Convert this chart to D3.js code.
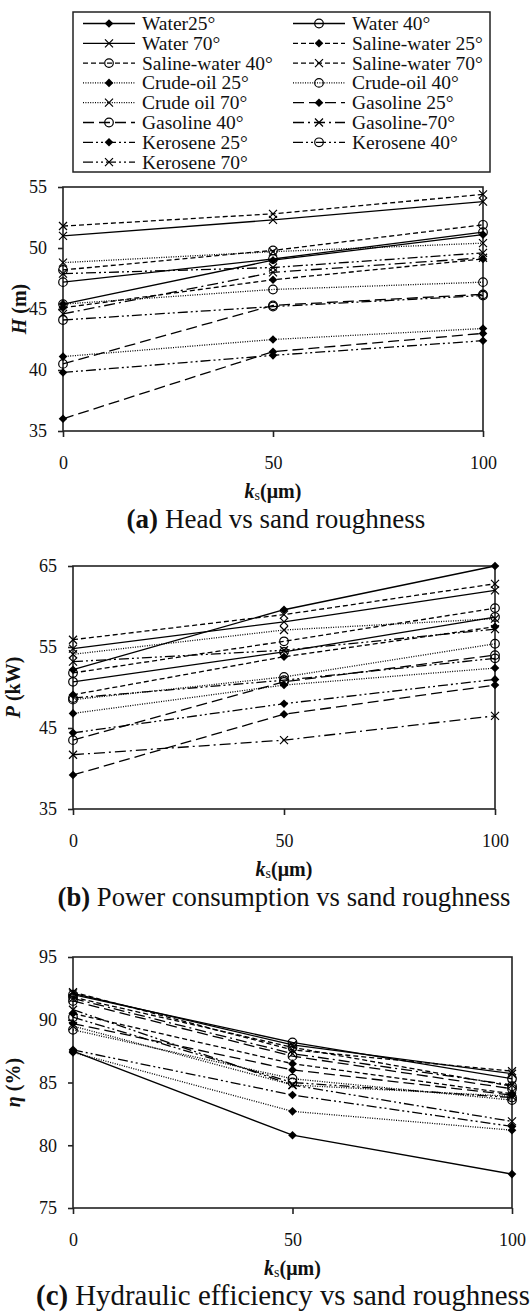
<!DOCTYPE html>
<html><head><meta charset="utf-8">
<script src="https://cdn.jsdelivr.net/npm/d3@7"></script>
<style>body{margin:0;background:#fff} svg{display:block}</style>
</head><body>
<svg id="c" width="531" height="1313"></svg>
<script>
// ---------- DATA ----------
const ksValues = [0, 50, 100];
const seriesNames = ["Water25°","Water 40°","Water 70°","Saline-water 25°","Saline-water 40°","Saline-water 70°",
  "Crude-oil 25°","Crude-oil 40°","Crude oil 70°","Gasoline 25°","Gasoline 40°","Gasoline-70°",
  "Kerosene 25°","Kerosene 40°","Kerosene 70°"];
// head H (m) at ks = 0, 50, 100
const headValues = [
  [45.4, 49.0, 51.1], [47.2, 49.1, 51.3], [51.0, 52.3, 53.8],
  [45.1, 47.4, 49.1], [48.2, 49.8, 51.9], [51.8, 52.8, 54.4],
  [41.1, 42.5, 43.4], [45.4, 46.6, 47.2], [48.8, 49.7, 50.4],
  [36.0, 41.5, 43.0], [40.5, 45.3, 46.2], [44.6, 48.0, 49.2],
  [39.8, 41.2, 42.4], [44.1, 45.2, 46.1], [47.9, 48.4, 49.6]
];
// power P (kW)
const powerValues = [
  [52.2, 59.6, 65.0], [50.7, 54.4, 58.7], [54.8, 58.1, 62.0],
  [49.1, 53.8, 57.5], [51.8, 55.7, 59.8], [55.9, 59.0, 62.8],
  [46.8, 50.3, 52.4], [48.5, 51.3, 55.4], [54.1, 57.1, 58.5],
  [39.2, 46.7, 50.3], [43.5, 50.7, 54.0], [41.7, 43.5, 46.5],
  [44.4, 48.0, 51.0], [48.7, 50.9, 53.6], [53.2, 54.6, 57.2]
];
// hydraulic efficiency (%)
const effValues = [
  [87.5, 80.8, 77.7], [92.0, 88.2, 85.3], [92.1, 88.0, 85.7],
  [90.5, 86.5, 84.1], [91.8, 87.8, 84.7], [92.2, 87.6, 85.9],
  [87.4, 82.7, 81.2], [89.2, 85.3, 83.6], [89.5, 84.8, 83.9],
  [89.7, 86.0, 84.0], [91.5, 87.1, 84.5], [91.7, 87.3, 84.8],
  [87.6, 84.0, 81.5], [90.2, 85.0, 83.8], [90.8, 84.8, 81.9]
];
const headTicks = [35, 40, 45, 50, 55];
const powerTicks = [35, 45, 55, 65];
const effTicks = [75, 80, 85, 90, 95];

// ---------- STYLES ----------
const FONT = '"Liberation Serif", "Times New Roman", serif';
const markerTypes = ["diamond", "circle", "cross"];
const dashStyles = [
  [null, null, null],
  ["5,3", "5,3", "5,3"],
  ["1,1.4", "1,1.4", "1,1.4"],
  ["11,5", "11,5", "11,4,2,4"],
  ["10,3,2,3,2,3", "10,3,2,3,2,3", "10,3,2,3,2,3"]
];
const svg = d3.select("#c");

function drawMarker(g, type, x, y) {
  if (type === "diamond") {
    const h = 4.3;
    g.append("path").attr("d", `M${x},${y-h}L${x+h},${y}L${x},${y+h}L${x-h},${y}Z`).attr("fill", "#000");
  } else if (type === "circle") {
    g.append("circle").attr("cx", x).attr("cy", y).attr("r", 4.3)
      .attr("fill", "none").attr("stroke", "#000").attr("stroke-width", 1.2);
  } else {
    const h = 4;
    g.append("path").attr("d", `M${x-h},${y-h}L${x+h},${y+h}M${x-h},${y+h}L${x+h},${y-h}`)
      .attr("stroke", "#000").attr("stroke-width", 1.2).attr("fill", "none");
  }
}

// ---------- LEGEND ----------
const leg = svg.append("g");
leg.append("rect").attr("x", 73).attr("y", 12).attr("width", 417).attr("height", 160)
  .attr("fill", "none").attr("stroke", "#222").attr("stroke-width", 1.5);
seriesNames.forEach((name, i) => {
  const row = Math.floor(i / 2), col = i % 2;
  const y = 23.5 + row * 19.8;
  const x0 = col === 0 ? 83 : 293;
  const dash = dashStyles[Math.floor(i / 3)][i % 3];
  leg.append("line").attr("x1", x0).attr("x2", x0 + 52).attr("y1", y).attr("y2", y)
    .attr("stroke", "#000").attr("stroke-width", 1.3).attr("stroke-dasharray", dash);
  drawMarker(leg, markerTypes[i % 3], x0 + 26, y);
  leg.append("text").attr("x", x0 + 59).attr("y", y + 6.5).text(name)
    .style("font-family", FONT).style("font-size", "19.5px").attr("fill", "#111");
});

// ---------- CHARTS ----------
function fitText(t, width, cx) {
  const fs = parseFloat(t.style("font-size"));
  const w = t.node().getComputedTextLength();
  t.style("font-size", (fs * width / w) + "px");
  t.attr("x", cx).attr("text-anchor", "middle");
}

function chart(cfg) {
  const g = svg.append("g");
  const x = d3.scaleLinear().domain([0, 100]).range([cfg.left, cfg.right]);
  const y = d3.scaleLinear().domain(cfg.domain).range([cfg.bottom, cfg.top]);

  g.append("rect").attr("x", cfg.left).attr("y", cfg.top)
    .attr("width", cfg.right - cfg.left).attr("height", cfg.bottom - cfg.top)
    .attr("fill", "none").attr("stroke", "#222").attr("stroke-width", 1.6);

  const ya = g.append("g").attr("transform", `translate(${cfg.left},0)`)
    .call(d3.axisLeft(y).tickValues(cfg.ticks).tickSize(5).tickPadding(11).tickFormat(d3.format("d")));
  const xa = g.append("g").attr("transform", `translate(0,${cfg.bottom})`)
    .call(d3.axisBottom(x).tickValues(ksValues).tickSize(6).tickPadding(19).tickFormat(d3.format("d")));
  [ya, xa].forEach(a => {
    a.attr("font-family", null).attr("font-size", null);
    a.select(".domain").remove();
    a.selectAll(".tick line").attr("stroke", "#222").attr("stroke-width", 1.6);
    a.selectAll("text").style("font-family", FONT).style("font-size", "18px").attr("fill", "#111");
  });

  const line = d3.line().x((d, k) => x(ksValues[k])).y(d => y(d));
  cfg.data.forEach((vals, i) => {
    const dash = dashStyles[Math.floor(i / 3)][i % 3];
    g.append("path").attr("d", line(vals)).attr("fill", "none").attr("stroke", "#000")
      .attr("stroke-width", 1.3).attr("stroke-dasharray", dash);
  });
  cfg.data.forEach((vals, i) => {
    vals.forEach((v, k) => drawMarker(g, markerTypes[i % 3], x(ksValues[k]), y(v)));
  });

  const yt = g.append("text").attr("transform", `translate(${cfg.ylabelX},${(cfg.top + cfg.bottom) / 2}) rotate(-90)`)
    .attr("text-anchor", "middle").style("font-family", FONT).style("font-size", "20px")
    .style("font-weight", "bold").attr("fill", "#111");
  yt.append("tspan").style("font-style", "italic").text(cfg.ylabel[0]);
  yt.append("tspan").text(cfg.ylabel[1]);

  const cx = (cfg.left + cfg.right) / 2;
  const xt = g.append("text").attr("x", cx).attr("y", cfg.bottom + 67).attr("text-anchor", "middle")
    .style("font-family", FONT).style("font-size", "20px").style("font-weight", "bold").attr("fill", "#111");
  xt.append("tspan").style("font-style", "italic").text("k");
  xt.append("tspan").style("font-size", "14px").style("font-weight", "normal").attr("dy", 2).text("s");
  xt.append("tspan").attr("dy", -2).text("(μm)");

  const cap = g.append("text").attr("y", cfg.bottom + 97).style("font-family", FONT)
    .style("font-size", "22px").attr("fill", "#111");
  cap.append("tspan").style("font-weight", "bold").text(cfg.caption[0]);
  cap.append("tspan").text(cfg.caption[1]);
  fitText(cap, cfg.captionW, cfg.captionX);
}

chart({data: headValues, domain: [35, 55], ticks: headTicks, left: 63, right: 483, top: 187, bottom: 431,
  ylabel: ["H", " (m)"], ylabelX: 26, caption: ["(a)", " Head vs sand roughness"], captionW: 299, captionX: 276});
chart({data: powerValues, domain: [35, 65], ticks: powerTicks, left: 73, right: 495, top: 566, bottom: 809,
  ylabel: ["P", " (kW)"], ylabelX: 20, caption: ["(b)", " Power consumption vs sand roughness"], captionW: 453, captionX: 284});
chart({data: effValues, domain: [75, 95], ticks: effTicks, left: 73, right: 512, top: 957, bottom: 1208,
  ylabel: ["η", " (%)"], ylabelX: 20, caption: ["(c)", " Hydraulic efficiency vs sand roughness"], captionW: 494, captionX: 283});
</script>
</body></html>
